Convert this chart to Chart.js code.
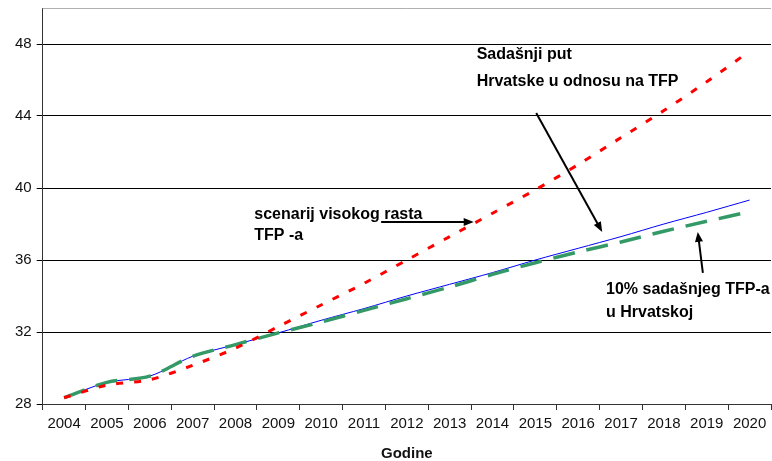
<!DOCTYPE html>
<html>
<head>
    <title>TFP scenariji</title>
    <script src="https://cdn.jsdelivr.net/npm/chart.js"></script>
    <style>
        body { margin: 0; background: #fff; }
        #chart-container { width: 772px; height: 461px; }
    </style>
</head>
<body>
    <div id="chart-container">
        <canvas id="line-chart"></canvas>
    </div>

    <script>
        var godine = ['2004', '2005', '2006', '2007', '2008', '2009', '2010', '2011', '2012',
                      '2013', '2014', '2015', '2016', '2017', '2018', '2019', '2020'];

        // Sadašnji put Hrvatske u odnosu na TFP
        var sadasnjiPut = [28.35, 29.05, 29.35, 30.15, 31.1, 32.3, 33.5, 34.7, 36.0,
                           37.3, 38.6, 39.9, 41.3, 42.8, 44.3, 45.9, 47.6];
        // scenarij visokog rasta TFP-a
        var visokiRast = [28.35, 29.2, 29.55, 30.65, 31.3, 31.95, 32.65, 33.3, 34.0,
                          34.65, 35.3, 36.0, 36.65, 37.3, 38.0, 38.65, 39.33];
        // 10% sadašnjeg TFP-a u Hrvatskoj
        var deset = [28.35, 29.2, 29.55, 30.65, 31.3, 31.95, 32.55, 33.2, 33.85,
                     34.5, 35.2, 35.85, 36.45, 37.0, 37.6, 38.15, 38.68];

        var yTicks = [28, 32, 36, 40, 44, 48];

        var fontName = 'Arial, "Liberation Sans", sans-serif';

        // natpisi i strelice (x = indeks godine, y = vrijednost)
        var natpisi = [
            { text: 'Sadašnji put', x: 9.63, y: 47.4 },
            { text: 'Hrvatske u odnosu na TFP', x: 9.63, y: 45.9 },
            { text: 'scenarij visokog rasta', x: 4.44, y: 38.5 },
            { text: 'TFP -a', x: 4.44, y: 37.33 },
            { text: '10% sadašnjeg TFP-a', x: 12.65, y: 34.33 },
            { text: 'u Hrvatskoj', x: 12.65, y: 33.1 }
        ];
        var strelice = [
            { x1: 11.02, y1: 44.17, x2: 12.56, y2: 37.56 },
            { x1: 7.4, y1: 38.11, x2: 9.56, y2: 38.11 },
            { x1: 14.91, y1: 35.28, x2: 14.79, y2: 37.56 }
        ];

        var oznake = {
            id: 'oznake',
            afterDatasetsDraw: function(chart) {
                var c = chart.ctx;
                var xs = chart.scales.x;
                var ys = chart.scales.y;
                var area = chart.chartArea;

                c.save();
                // gornji rub
                c.strokeStyle = '#b0b0b0';
                c.lineWidth = 1;
                c.beginPath();
                c.moveTo(area.left, area.top + 0.5);
                c.lineTo(area.right, area.top + 0.5);
                c.stroke();

                c.fillStyle = '#000';
                c.font = 'bold 16px ' + fontName;
                c.textBaseline = 'middle';
                c.textAlign = 'left';
                natpisi.forEach(function(n) {
                    c.fillText(n.text, xs.getPixelForValue(n.x), ys.getPixelForValue(n.y));
                });

                c.strokeStyle = '#000';
                c.lineWidth = 2;
                strelice.forEach(function(s) {
                    var x1 = xs.getPixelForValue(s.x1), y1 = ys.getPixelForValue(s.y1);
                    var x2 = xs.getPixelForValue(s.x2), y2 = ys.getPixelForValue(s.y2);
                    var a = Math.atan2(y2 - y1, x2 - x1);
                    var len = 10, w = 4;
                    c.beginPath();
                    c.moveTo(x1, y1);
                    c.lineTo(x2 - Math.cos(a) * len * 0.8, y2 - Math.sin(a) * len * 0.8);
                    c.stroke();
                    c.beginPath();
                    c.moveTo(x2, y2);
                    c.lineTo(x2 - Math.cos(a) * len + Math.sin(a) * w, y2 - Math.sin(a) * len - Math.cos(a) * w);
                    c.lineTo(x2 - Math.cos(a) * len - Math.sin(a) * w, y2 - Math.sin(a) * len + Math.cos(a) * w);
                    c.closePath();
                    c.fill();
                });
                c.restore();
            }
        };

        var ctx = document.getElementById('line-chart').getContext('2d');
        var chart = new Chart(ctx, {
            type: 'line',
            data: {
                labels: godine,
                datasets: [{
                    label: 'Sadašnji put Hrvatske u odnosu na TFP',
                    data: sadasnjiPut,
                    borderColor: '#ff0000',
                    borderWidth: 3,
                    borderDash: [7, 11],
                    pointRadius: 0,
                    tension: 0.3,
                    fill: false
                }, {
                    label: '10% sadašnjeg TFP-a u Hrvatskoj',
                    data: deset,
                    borderColor: '#339966',
                    borderWidth: 3.5,
                    borderDash: [22, 12],
                    pointRadius: 0,
                    tension: 0.3,
                    fill: false
                }, {
                    label: 'scenarij visokog rasta TFP-a',
                    data: visokiRast,
                    borderColor: '#0000ff',
                    borderWidth: 1,
                    pointRadius: 0,
                    tension: 0.3,
                    fill: false
                }]
            },
            options: {
                responsive: true,
                maintainAspectRatio: false,
                animation: false,
                layout: { padding: { left: 10, right: 1, top: 8, bottom: -2 } },
                plugins: {
                    legend: { display: false },
                    tooltip: { enabled: false }
                },
                scales: {
                    x: {
                        type: 'category',
                        offset: true,
                        grid: {
                            offset: true,
                            drawOnChartArea: false,
                            drawTicks: true,
                            tickLength: 6,
                            color: '#333'
                        },
                        border: { color: '#333', width: 1 },
                        ticks: {
                            color: '#111',
                            font: { family: fontName, size: 15 },
                            padding: 5,
                            maxRotation: 0,
                            autoSkip: false
                        },
                        title: {
                            display: true,
                            text: 'Godine',
                            color: '#111',
                            font: { family: fontName, size: 15, weight: 'bold' },
                            padding: { top: 7, bottom: 0 }
                        }
                    },
                    y: {
                        type: 'linear',
                        min: 28,
                        max: 50,
                        grid: {
                            color: '#000',
                            lineWidth: 1,
                            drawTicks: true,
                            tickLength: 6
                        },
                        border: { color: '#333', width: 1 },
                        afterBuildTicks: function(scale) {
                            scale.ticks = yTicks.map(function(v) { return { value: v }; });
                        },
                        afterFit: function(scale) {
                            scale.paddingTop = 0;
                        },
                        ticks: {
                            color: '#111',
                            font: { family: fontName, size: 15 },
                            padding: 5
                        }
                    }
                }
            },
            plugins: [oznake]
        });
    </script>
</body>
</html>
